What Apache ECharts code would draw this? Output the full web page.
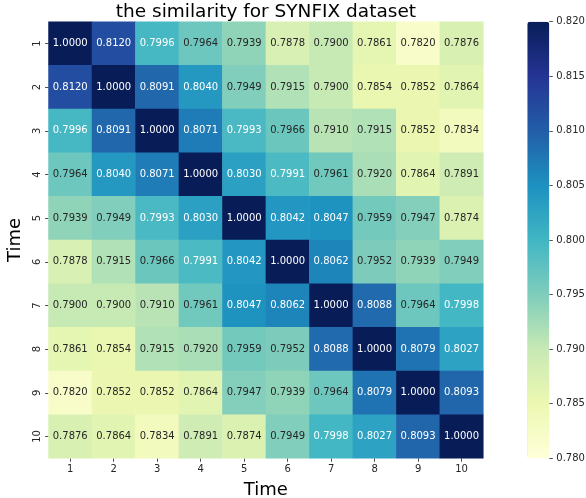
<!DOCTYPE html>
<html>
<head>
<meta charset="utf-8">
<script src="https://cdn.jsdelivr.net/npm/echarts@6/dist/echarts.min.js"></script>
<style>
  html, body { margin: 0; padding: 0; background: #fff; }
  #chart { width: 586px; height: 498px; }
</style>
</head>
<body>
<div id="chart"></div>
<script>
// Pairwise similarity between time steps (symmetric matrix, row = y, column = x)
const timeLabels = ['1', '2', '3', '4', '5', '6', '7', '8', '9', '10'];
const similarity = [
  [1.0000, 0.8120, 0.7996, 0.7964, 0.7939, 0.7878, 0.7900, 0.7861, 0.7820, 0.7876],
  [0.8120, 1.0000, 0.8091, 0.8040, 0.7949, 0.7915, 0.7900, 0.7854, 0.7852, 0.7864],
  [0.7996, 0.8091, 1.0000, 0.8071, 0.7993, 0.7966, 0.7910, 0.7915, 0.7852, 0.7834],
  [0.7964, 0.8040, 0.8071, 1.0000, 0.8030, 0.7991, 0.7961, 0.7920, 0.7864, 0.7891],
  [0.7939, 0.7949, 0.7993, 0.8030, 1.0000, 0.8042, 0.8047, 0.7959, 0.7947, 0.7874],
  [0.7878, 0.7915, 0.7966, 0.7991, 0.8042, 1.0000, 0.8062, 0.7952, 0.7939, 0.7949],
  [0.7900, 0.7900, 0.7910, 0.7961, 0.8047, 0.8062, 1.0000, 0.8088, 0.7964, 0.7998],
  [0.7861, 0.7854, 0.7915, 0.7920, 0.7959, 0.7952, 0.8088, 1.0000, 0.8079, 0.8027],
  [0.7820, 0.7852, 0.7852, 0.7864, 0.7947, 0.7939, 0.7964, 0.8079, 1.0000, 0.8093],
  [0.7876, 0.7864, 0.7834, 0.7891, 0.7874, 0.7949, 0.7998, 0.8027, 0.8093, 1.0000]
];
const colorMin = 0.78;
const colorMax = 0.82;
const colorStep = 0.005;

// YlGnBu colour ramp, low to high
const ylGnBu = ['#ffffd9', '#edf8b1', '#c7e9b4', '#7fcdbb', '#41b6c4',
                '#1d91c0', '#225ea8', '#253494', '#081d58'];

const FONT = 'DejaVu Sans';
const INK = '#262626';

const cells = [];
similarity.forEach((row, y) => {
  row.forEach((v, x) => {
    cells.push({
      value: [x, y, v],
      label: { color: v >= 0.798 ? '#ffffff' : INK }
    });
  });
});

const plot = { left: 48.5, top: 21.7, width: 434.8, height: 436.6 };
const bar = { left: 527.3, width: 22 };

const chart = echarts.init(document.getElementById('chart'), null, { renderer: 'canvas' });
chart.setOption({
  animation: false,
  backgroundColor: '#ffffff',
  textStyle: { fontFamily: FONT },
  title: {
    text: 'the similarity for SYNFIX dataset',
    left: plot.left + plot.width / 2,
    top: 3,
    padding: 0,
    textAlign: 'center',
    textStyle: { fontFamily: FONT, fontSize: 18.5, fontWeight: 'normal', color: '#000' }
  },
  grid: [
    { left: plot.left, top: plot.top, width: plot.width, height: plot.height,
      containLabel: false, outerBoundsMode: 'none' },
    { left: bar.left, top: plot.top, width: bar.width, height: plot.height,
      containLabel: false, outerBoundsMode: 'none' }
  ],
  xAxis: [
    {
      type: 'category',
      data: timeLabels,
      gridIndex: 0,
      name: 'Time',
      nameLocation: 'middle',
      nameGap: 23,
      nameTextStyle: { fontFamily: FONT, fontSize: 18, color: '#000' },
      axisLine: { show: false },
      axisTick: { show: true, alignWithLabel: true, length: 3.5, lineStyle: { color: INK, width: 0.8 } },
      axisLabel: { fontFamily: FONT, fontSize: 10, color: INK, margin: 6 },
      splitLine: { show: false }
    },
    { type: 'value', gridIndex: 1, show: false, min: 0, max: 1 }
  ],
  yAxis: [
    {
      type: 'category',
      data: timeLabels,
      gridIndex: 0,
      inverse: true,
      name: 'Time',
      nameLocation: 'middle',
      nameRotate: 90,
      nameGap: 23,
      nameTextStyle: { fontFamily: FONT, fontSize: 18, color: '#000' },
      axisLine: { show: false },
      axisTick: { show: true, alignWithLabel: true, length: 3.5, lineStyle: { color: INK, width: 0.8 } },
      axisLabel: { fontFamily: FONT, fontSize: 10, color: INK, margin: 6, rotate: 90 },
      splitLine: { show: false }
    },
    {
      // colour bar scale
      type: 'value',
      gridIndex: 1,
      position: 'right',
      min: colorMin,
      max: colorMax,
      interval: colorStep,
      axisLine: { show: false, onZero: false },
      axisTick: { show: true, length: 3.5, lineStyle: { color: INK, width: 0.8 } },
      axisLabel: {
        fontFamily: FONT, fontSize: 10, color: INK, margin: 7,
        formatter: v => v.toFixed(3)
      },
      splitLine: { show: false }
    }
  ],
  visualMap: {
    type: 'continuous',
    min: colorMin,
    max: colorMax,
    seriesIndex: 0,
    orient: 'vertical',
    left: bar.left,
    top: plot.top,
    padding: 0,
    itemWidth: bar.width,
    itemHeight: plot.height,
    calculable: false,
    hoverLink: false,
    inRange: { color: ylGnBu }
  },
  series: [{
    type: 'heatmap',
    xAxisIndex: 0,
    yAxisIndex: 0,
    data: cells,
    label: {
      show: true,
      fontFamily: FONT,
      fontSize: 10,
      formatter: p => p.value[2].toFixed(4)
    },
    itemStyle: { borderWidth: 0 },
    emphasis: { disabled: true }
  }]
});
</script>
</body>
</html>
